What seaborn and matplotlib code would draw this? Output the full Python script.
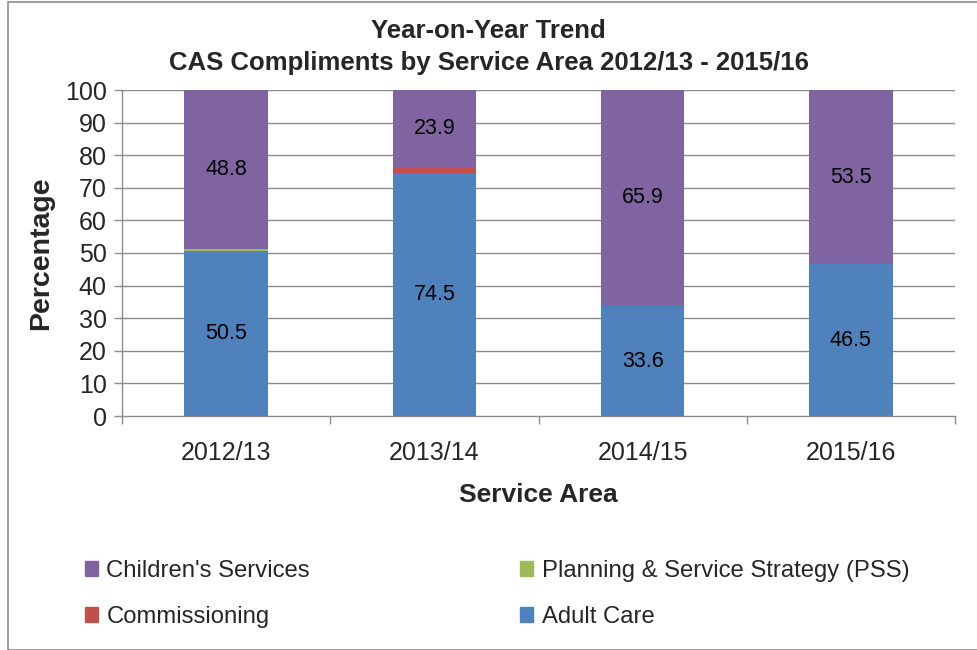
import numpy as np
import pandas as pd
import matplotlib
matplotlib.use("Agg")
import matplotlib.pyplot as plt
from matplotlib.patches import Rectangle
from matplotlib import font_manager
import seaborn as sns

years = ["2012/13", "2013/14", "2014/15", "2015/16"]
adult_care = [50.5, 74.5, 33.6, 46.5]
commissioning = [0.0, 1.6, 0.5, 0.0]
pss = [0.7, 0.0, 0.0, 0.0]
childrens = [48.8, 23.9, 65.9, 53.5]

series_names = ["Adult Care", "Commissioning", "Planning & Service Strategy (PSS)", "Children's Services"]
series_vals = [adult_care, commissioning, pss, childrens]
colors = {"Adult Care": "#4F81BD", "Commissioning": "#C0504D",
          "Planning & Service Strategy (PSS)": "#9BBB59", "Children's Services": "#8064A2"}
labelled = {"Adult Care", "Children's Services"}

sns.set_theme(style="white")
plt.rcParams['font.family'] = ['Liberation Sans', 'DejaVu Sans']

installed = {f.name for f in font_manager.fontManager.ttflist}
title_family = ["Liberation Sans Narrow"] if "Liberation Sans Narrow" in installed else ["Liberation Sans"]
title_size = 19 if "Liberation Sans Narrow" in installed else 18.5

fig = plt.figure(figsize=(9.77, 6.5), dpi=100)
ax = fig.add_axes([122/977, 1 - 416/650, (955 - 122)/977, (416 - 90)/650])

for y in range(10, 101, 10):
    ax.axhline(y, color="#8c8c8c", lw=1.0, zorder=0)

bottom = np.zeros(len(years))
for name, vals in zip(series_names, series_vals):
    df = pd.DataFrame({"Year": years, "Value": vals})
    sns.barplot(data=df, x="Year", y="Value", color=colors[name], bottom=bottom,
                width=0.4, saturation=1, ax=ax, zorder=2, linewidth=0)
    cont = ax.containers[-1]
    if name in labelled:
        ax.bar_label(cont, labels=[f"{v:.1f}" for v in vals], label_type="center",
                     fontsize=15.5, color="black")
    bottom = bottom + np.array(vals)

ax.set_ylim(0, 100)
ax.set_xlim(-0.5, 3.5)
ax.set_yticks(range(0, 101, 10))
ax.tick_params(axis="y", labelsize=18, length=6, width=1, color="#8c8c8c", direction="out", left=True, pad=5)
ax.tick_params(axis="x", labelsize=18, length=0, pad=18)
ax.set_xticks([-0.5, 0.5, 1.5, 2.5, 3.5], minor=True)
ax.tick_params(axis="x", which="minor", length=6, width=1, color="#8c8c8c", direction="out", bottom=True)

for side in ["top", "right"]:
    ax.spines[side].set_visible(False)
for side in ["left", "bottom"]:
    ax.spines[side].set_color("#8c8c8c")
    ax.spines[side].set_linewidth(1)

ax.set_xlabel("Service Area", fontsize=19, fontweight="bold", labelpad=13)
ax.set_ylabel("Percentage", fontsize=20.5, fontweight="bold", labelpad=8)

fig.text(0.5, 1 - 31/650, "Year-on-Year Trend", ha="center", va="center",
         fontsize=title_size, fontweight="bold", family=title_family)
fig.text(0.5, 1 - 63/650, "CAS Compliments by Service Area 2012/13 - 2015/16", ha="center", va="center",
         fontsize=title_size, fontweight="bold", family=title_family)

def add_legend(names, x_px):
    hs = [Rectangle((0, 0), 1, 1, color=colors[n]) for n in names]
    leg = fig.legend(hs, names, ncol=1, loc="upper left", bbox_to_anchor=(x_px/977, 1 - 560/650),
                     frameon=False, fontsize=17.2, handlelength=0.55, handleheight=0.55,
                     handletextpad=0.35, labelspacing=1.0, borderaxespad=0, borderpad=0)
    return leg

add_legend(["Children's Services", "Commissioning"], 85)
add_legend(["Planning & Service Strategy (PSS)", "Adult Care"], 520)

fig.patches.append(Rectangle((8/977, 0), 1.0, 1 - 2/650, transform=fig.transFigure,
                             fill=False, edgecolor="#8c8c8c", lw=1.2))

fig.savefig("out.png", dpi=100)
